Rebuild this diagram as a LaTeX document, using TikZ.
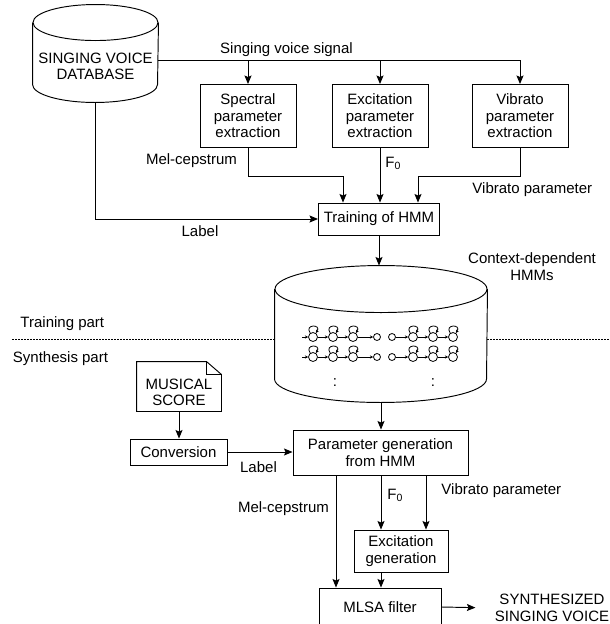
\documentclass[tikz,border=0pt]{standalone}
\usepackage{fontspec}
\setmainfont{Liberation Sans}
\usetikzlibrary{arrows.meta}

\begin{document}
\begin{tikzpicture}[x=1pt,y=1pt,line width=0.95pt,
  every node/.style={font=\fontsize{15}{16.5}\selectfont},
  blk/.style={draw,rectangle,inner sep=0pt,align=center},
  txt/.style={align=center,inner sep=0pt},
  lbl/.style={inner sep=0pt,anchor=base},
  ar/.style={-{Stealth[length=8.5pt,width=7pt,inset=1.5pt]}},
  sa/.style={-{Stealth[length=3.2pt,width=3.2pt]},line width=0.8pt},
  st/.style={circle,draw,minimum size=9pt,inner sep=0pt,line width=0.8pt},
  fin/.style={circle,draw,minimum size=7pt,inner sep=0pt,line width=0.8pt},
  slf/.style={out=125,in=55,distance=11pt},
  sep/.style={dash pattern=on 2pt off 1pt}]
\useasboundingbox (0,0) rectangle (610,-624);
\clip (0,0) rectangle (610,-624);

% training part
\node[inner sep=0pt,minimum width=125pt,minimum height=97pt] (db) at (95.5,-53.5) {};
\draw ([yshift=-18pt]db.north west) -- ([yshift=18pt]db.south west)
  arc[start angle=180,end angle=360,x radius=62.5,y radius=18] -- ([yshift=-18pt]db.north east);
\draw ([yshift=-18pt]db.north) ellipse[x radius=62.5,y radius=18];
\node[txt] (dbt) at (95.5,-66.5) {SINGING VOICE\\DATABASE};

\node[blk,minimum width=96pt,minimum height=63pt] (spe) at (248,-116) {Spectral\\parameter\\extraction};
\node[blk,minimum width=96pt,minimum height=63pt] (exc) at (380,-116) {Excitation\\parameter\\extraction};
\node[blk,minimum width=96pt,minimum height=63pt] (vib) at (520,-116) {Vibrato\\parameter\\extraction};
\node[blk,minimum width=121pt,minimum height=32pt] (trn) at (379,-219) {Training of HMM};

\coordinate (sig) at (158,-60);
\coordinate (j1) at (343,-176);
\coordinate (j2) at (418,-176);
\draw[ar] (sig) -| (vib.north);
\draw[ar] (sig -| spe.north) -- (spe.north);
\draw[ar] (sig -| exc.north) -- (exc.north);
\draw[ar] (spe.south) |- (j1) -- (j1 |- trn.north);
\draw[ar] (exc.south) -- (exc.south |- trn.north);
\draw[ar] (vib.south) |- (j2) -- (j2 |- trn.north);
\draw[ar] (db.south) |- (trn.west);

\node[lbl] (sigl) at (286.5,-53) {Singing voice signal};
\node[lbl] (mcl1) at (191.5,-164) {Mel-cepstrum};
\node[lbl,anchor=base west] (f0l1) at (385,-167) {F\textsubscript{0}};
\node[lbl,anchor=base west] (vpl1) at (472,-193) {Vibrato parameter};
\node[lbl] (lbl1) at (200,-236.5) {Label};

% context-dependent HMMs
\node[inner sep=0pt,minimum width=212pt,minimum height=136pt] (hmm) at (381,-334) {};
\draw ([yshift=-23.5pt]hmm.north west) -- ([yshift=23.5pt]hmm.south west)
  arc[start angle=180,end angle=360,x radius=106,y radius=23.5] -- ([yshift=-23.5pt]hmm.north east);
\draw ([yshift=-23.5pt]hmm.north) ellipse[x radius=106,y radius=23.5];
\draw[ar] (trn.south) -- (trn.south |- hmm.north);
\node[txt] (cdl) at (532,-266.5) {Context-dependent\\HMMs};

\coordinate (i1) at (302,-337);
\node[st] (a1) at (313,-337) {};
\node[st] (a2) at (333,-337) {};
\node[st] (a3) at (353,-337) {};
\node[fin] (a4) at (377,-337) {};
\node[fin] (b1) at (392,-337) {};
\node[st] (b2) at (413,-337) {};
\node[st] (b3) at (433,-337) {};
\node[st] (b4) at (453,-337) {};
\draw[sa] (i1) -- (a1);
\draw[sa] (a1) -- (a2);
\draw[sa] (a2) -- (a3);
\draw[sa] (a3) -- (a4);
\draw[sa] (b1) -- (b2);
\draw[sa] (b2) -- (b3);
\draw[sa] (b3) -- (b4);
\draw[sa] (a1) to[slf] (a1);
\draw[sa] (a2) to[slf] (a2);
\draw[sa] (a3) to[slf] (a3);
\draw[sa] (b2) to[slf] (b2);
\draw[sa] (b3) to[slf] (b3);
\draw[sa] (b4) to[slf] (b4);

\coordinate (i2) at (302,-357);
\node[st] (c1) at (313,-357) {};
\node[st] (c2) at (333,-357) {};
\node[st] (c3) at (353,-357) {};
\node[fin] (c4) at (377,-357) {};
\node[fin] (d1) at (392,-357) {};
\node[st] (d2) at (413,-357) {};
\node[st] (d3) at (433,-357) {};
\node[st] (d4) at (453,-357) {};
\draw[sa] (i2) -- (c1);
\draw[sa] (c1) -- (c2);
\draw[sa] (c2) -- (c3);
\draw[sa] (c3) -- (c4);
\draw[sa] (d1) -- (d2);
\draw[sa] (d2) -- (d3);
\draw[sa] (d3) -- (d4);
\draw[sa] (c1) to[slf] (c1);
\draw[sa] (c2) to[slf] (c2);
\draw[sa] (c3) to[slf] (c3);
\draw[sa] (d2) to[slf] (d2);
\draw[sa] (d3) to[slf] (d3);
\draw[sa] (d4) to[slf] (d4);
\node[lbl] (dt1) at (335,-386.5) {:};
\node[lbl] (dt2) at (433,-386.5) {:};

% training / synthesis separator
\coordinate (sl) at (12,-339);
\coordinate (sr) at (610,-339);
\draw[sep] (sl) -- (sl -| hmm.west);
\draw[sep] (sr -| hmm.east) -- (sr);
\node[lbl,anchor=base west] (tpl) at (20,-327) {Training part};
\node[lbl,anchor=base west] (spl) at (12.5,-362) {Synthesis part};

% synthesis part
\node[inner sep=0pt,minimum width=84pt,minimum height=49pt] (score) at (179,-386.5) {};
\draw (score.south west) -- (score.north west) -- ([xshift=-15pt]score.north east)
  -- ([yshift=-13pt]score.north east) -- (score.south east) -- cycle;
\draw ([xshift=-15pt]score.north east) |- ([yshift=-13pt]score.north east);
\node[txt] (scoret) at (179,-392.5) {MUSICAL\\SCORE};

\node[blk,minimum width=97pt,minimum height=26pt] (conv) at (178.5,-452) {Conversion};
\node[blk,minimum width=175pt,minimum height=45pt] (gen) at (380.5,-452.5) {Parameter generation\\from HMM};
\node[blk,minimum width=94pt,minimum height=42pt] (exg) at (401,-551) {Excitation\\generation};
\node[blk,minimum width=122pt,minimum height=38pt] (mlsa) at (380,-607) {MLSA filter};
\node[txt] (out) at (552,-608) {SYNTHESIZED\\SINGING VOICE};

\coordinate (xm) at (336,0);
\coordinate (xf) at (381,0);
\coordinate (xv) at (426,0);
\draw[ar] (score.south) -- (score.south |- conv.north);
\draw[ar] (conv.east) -- (conv.east -| gen.west);
\draw[ar] (hmm.south) -- (hmm.south |- gen.north);
\draw[ar] (gen.south -| xm) -- (mlsa.north -| xm);
\draw[ar] (gen.south -| xf) -- (exg.north -| xf);
\draw[ar] (gen.south -| xv) -- (exg.north -| xv);
\draw[ar] (exg.south -| xf) -- (mlsa.north -| xf);
\draw[ar,shorten >=19pt] (mlsa.east) -- (out.west);

\node[lbl] (lbl2) at (258.5,-472) {Label};
\node[lbl] (mcl2) at (283.5,-512) {Mel-cepstrum};
\node[lbl,anchor=base west] (f0l2) at (387,-499) {F\textsubscript{0}};
\node[lbl,anchor=base west] (vpl2) at (441,-494) {Vibrato parameter};
\end{tikzpicture}
\end{document}
